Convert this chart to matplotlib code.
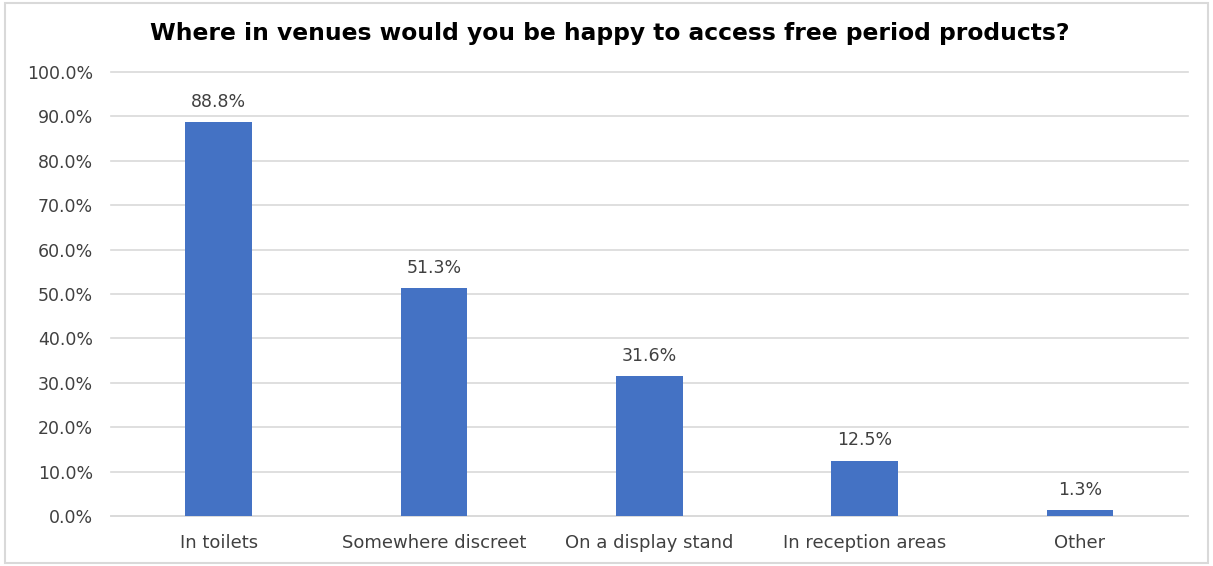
import matplotlib
matplotlib.use("Agg")
from matplotlib import pyplot as plt
from matplotlib.patches import Rectangle

categories = ["In toilets", "Somewhere discreet", "On a display stand", "In reception areas", "Other"]
values = [88.8, 51.3, 31.6, 12.5, 1.3]
yticks = [0, 10, 20, 30, 40, 50, 60, 70, 80, 90, 100]

plt.rcParams['font.family'] = ['DejaVu Sans']

fig = plt.figure(figsize=(12.13, 5.66), dpi=100)
ax = fig.add_axes([0.0915, 0.0883, 0.8875, 0.7845])

x = range(len(categories))
bars = ax.bar(x, values, width=0.31, color='#4472C4', zorder=3)

for xi, v in zip(x, values):
    ax.text(xi, v + 2.5, f"{v:.1f}%", ha='center', va='bottom', fontsize=12.5, color='#404040')

ax.set_xlim(-0.5, len(categories) - 0.5)
ax.set_ylim(0, 100)
ax.set_yticks(yticks)
ax.set_yticklabels([f"{t:.1f}%" for t in yticks])
ax.set_xticks(list(x))
ax.set_xticklabels(categories)
ax.tick_params(axis='both', length=0, labelcolor='#404040')
ax.tick_params(axis='y', pad=13, labelsize=12.5)
ax.tick_params(axis='x', pad=13, labelsize=13)
ax.grid(axis='y', color='#D9D9D9', linewidth=1.2, zorder=0)
for gl in ax.get_ygridlines():
    gl.set_clip_on(False)
for side in ['top', 'right', 'left']:
    ax.spines[side].set_visible(False)
ax.spines['bottom'].set_color('#D9D9D9')
ax.spines['bottom'].set_linewidth(1.2)

fig.text(0.503, 0.94, "Where in venues would you be happy to access free period products?",
         ha='center', va='center', fontsize=16.8, fontweight='bold', color='black')

fig.patches.append(Rectangle((0.004, 0.005), 0.992, 0.99, transform=fig.transFigure,
                             fill=False, edgecolor='#D9D9D9', linewidth=1.5))

fig.savefig("out.png", dpi=100)
